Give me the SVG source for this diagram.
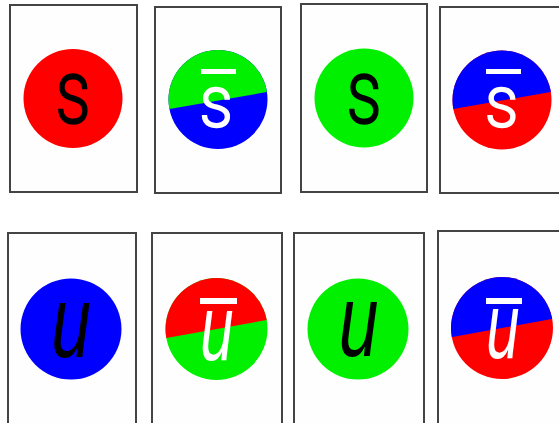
<svg xmlns="http://www.w3.org/2000/svg" width="559" height="423" viewBox="0 0 559 423">
<style>
.card{fill:#fefefe;stroke:#444;stroke-width:2}
.red{fill:#ff0000}.green{fill:#00f000}.blue{fill:#0000ff}
.q{font-family:"Liberation Sans",Arial,sans-serif;text-anchor:middle}
.s{font-family:Roboto,"Liberation Sans",sans-serif;font-weight:300;stroke-width:1.6}
.b{fill:#000}.w{fill:#fff}
.s.b{stroke:#000}.s.w{stroke:#fff}
.it{font-style:italic}
.bar{fill:#fff}
</style>
<defs>
<clipPath id="c50" clipPathUnits="userSpaceOnUse"><circle r="49.5"/></clipPath>
<clipPath id="c51" clipPathUnits="userSpaceOnUse"><circle r="51"/></clipPath>
</defs>
<rect width="559" height="423" fill="#fff"/>
<g id="card1">
<rect class="card" x="10" y="5" width="127" height="187"/>
<circle class="red" cx="73" cy="98.5" r="49.5"/>
<text class="q s b" font-size="90" transform="translate(73,123) scale(0.78,1)">s</text>
</g>
<g id="card2">
<rect class="card" x="155" y="7" width="126" height="186"/>
<g transform="translate(218,99.5)">
<circle class="blue" r="49.5"/>
<polygon class="green" clip-path="url(#c50)" points="-60,-60 60,-60 60,-9.4 -60,11.4"/>
</g>
<rect class="bar" x="201" y="69" width="35" height="5"/>
<text class="q s w" font-size="74" transform="translate(216,126.5) scale(0.9,1)">s</text>
</g>
<g id="card3">
<rect class="card" x="301" y="4" width="126" height="188"/>
<circle class="green" cx="364" cy="98" r="49.5"/>
<text class="q s b" font-size="90" transform="translate(364,123) scale(0.78,1)">s</text>
</g>
<g id="card4">
<rect class="card" x="440" y="7" width="130" height="186"/>
<g transform="translate(502,100)">
<circle class="red" r="49.5"/>
<polygon class="blue" clip-path="url(#c50)" points="-60,-60 60,-60 60,-9.9 -60,10.9"/>
</g>
<rect class="bar" x="486" y="69" width="35" height="5"/>
<text class="q s w" font-size="74" transform="translate(501.5,127) scale(0.9,1)">s</text>
</g>
<g id="card5">
<rect class="card" x="8" y="233" width="128" height="200"/>
<circle class="blue" cx="71" cy="329" r="50.5"/>
<text class="q b it" font-size="102" transform="translate(71,357) scale(0.7,1)">u</text>
</g>
<g id="card6">
<rect class="card" x="152" y="233" width="130" height="200"/>
<g transform="translate(216.5,329)">
<circle class="green" r="51"/>
<polygon class="red" clip-path="url(#c51)" points="-60,-60 60,-60 60,-10.7 -60,10.9"/>
</g>
<rect class="bar" x="200" y="298" width="37" height="6"/>
<text class="q w it" font-size="92" transform="translate(217,360) scale(0.65,1)">u</text>
</g>
<g id="card7">
<rect class="card" x="294" y="233" width="130" height="200"/>
<circle class="green" cx="358" cy="329" r="50.5"/>
<text class="q b it" font-size="102" transform="translate(358.5,356) scale(0.7,1)">u</text>
</g>
<g id="card8">
<rect class="card" x="438" y="231" width="130" height="200"/>
<g transform="translate(502,328)">
<circle class="red" r="51"/>
<polygon class="blue" clip-path="url(#c51)" points="-60,-60 60,-60 60,-10.8 -60,10.8"/>
</g>
<rect class="bar" x="486" y="298" width="36" height="6"/>
<text class="q w it" font-size="92" transform="translate(503,358) scale(0.65,1)">u</text>
</g>
<g id="connectors"/>
</svg>
